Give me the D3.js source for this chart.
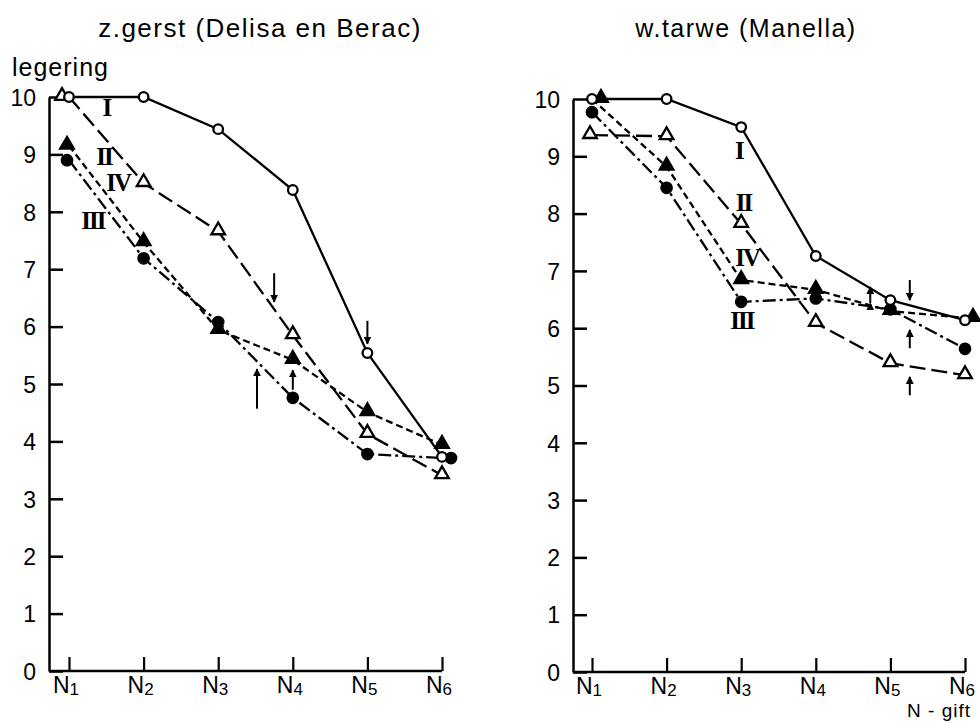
<!DOCTYPE html>
<html>
<head>
<meta charset="utf-8">
<script src="https://cdn.jsdelivr.net/npm/d3@7"></script>
<style>
  body { margin: 0; background: #fff; }
  svg text { font-family: "Liberation Sans", Arial, sans-serif; fill: #000; }
</style>
</head>
<body>
<div id="chart"></div>
<script>
// N-gift levels and legering scale
var nLabels = ["1", "2", "3", "4", "5", "6"];
var yTicks = [0, 1, 2, 3, 4, 5, 6, 7, 8, 9, 10];

// z.gerst (Delisa en Berac)
var gerstI   = [10, 10, 9.44, 8.38, 5.54, 3.73];
var gerstII  = [10, 8.5, 7.66, 5.85, 4.13, 3.41];
var gerstIII = [8.9, 7.19, 6.08, 4.76, 3.78, 3.71];
var gerstIV  = [9.15, 7.47, 5.94, 5.42, 4.51, 3.94];

// w.tarwe (Manella)
var tarweI   = [10, 10, 9.51, 7.26, 6.49, 6.14];
var tarweII  = [9.37, 9.35, 7.82, 6.09, 5.39, 5.18];
var tarweIII = [9.77, 8.45, 6.46, 6.52, 6.33, 5.64];
var tarweIV  = [10, 8.82, 6.84, 6.67, 6.3, 6.18];

// roman numeral labels: [label, x (N index), y]
var gerstLabels = [["I", 0.5, 9.83], ["II", 0.47, 8.96], ["IV", 0.66, 8.52], ["III", 0.32, 7.86]];
var tarweLabels = [["I", 1.97, 9.11], ["II", 2.03, 8.2], ["IV", 2.08, 7.24], ["III", 2.01, 6.14]];

// arrows: [x (N index), from y, to y]
var gerstArrows = [[2.75, 6.93, 6.43], [4.0, 6.1, 5.7], [2.52, 4.57, 5.26], [3.0, 4.9, 5.24]];
var tarweArrows = [[4.26, 6.84, 6.49], [4.26, 5.65, 5.97], [4.26, 4.83, 5.15]];

var svgWidth = 980, svgHeight = 723;

var svg = d3.select('#chart').append('svg')
  .attr('width', svgWidth)
  .attr('height', svgHeight);

var defs = svg.append('defs');
defs.append('marker')
  .attr('id', 'head')
  .attr('viewBox', '0 0 10 10')
  .attr('refX', 9).attr('refY', 5)
  .attr('markerWidth', 4).attr('markerHeight', 5)
  .attr('orient', 'auto')
  .append('path')
  .attr('d', 'M0,0 L10,5 L0,10 Z')
  .attr('fill', '#000');

// line / marker style per series
var styles = {
  I:   { dash: null,          sym: 'circle',   fill: '#fff' },
  II:  { dash: '16,6',        sym: 'triangle', fill: '#fff' },
  III: { dash: '13,4,3,4',    sym: 'circle',   fill: '#000' },
  IV:  { dash: '7,4',         sym: 'triangle', fill: '#000' }
};

var panels = [
  { title: 'z.gerst (Delisa en Berac)', titleX: 260, axisX: 49, x0: 69, x1: 442, y0: 671, y1: 97,
    titleSize: 26,
    series: { II: gerstII, III: gerstIII, IV: gerstIV, I: gerstI },
    nudge: { I: [0, 0, 0, 0, 0, 0], II: [-7, 0, 0, 0, 0, 0], III: [-2, 0, 0, 0, 0, 9], IV: [-2, 0, 0, 0, 0, 0] },
    labels: gerstLabels, arrows: gerstArrows, yLabel: true },
  { title: 'w.tarwe (Manella)', titleX: 746, axisX: 573, x0: 592, x1: 965, y0: 672, y1: 99,
    titleSize: 25,
    series: { II: tarweII, III: tarweIII, IV: tarweIV, I: tarweI },
    nudge: { I: [0, 0, 0, 0, 0, 0], II: [-2, 0, 0, 0, 0, 0], III: [0, 0, 0, 0, 0, 0], IV: [9, 0, 0, 0, 0, 8] },
    labels: tarweLabels, arrows: tarweArrows, xLabel: true }
];

panels.forEach(function(p) {
  var x = d3.scaleLinear().domain([0, 5]).range([p.x0, p.x1]);
  var y = d3.scaleLinear().domain([0, 10]).range([p.y0, p.y1]);
  var g = svg.append('g');

  // title
  svg.append('text')
    .attr('x', p.titleX).attr('y', 37)
    .attr('text-anchor', 'middle')
    .style('font-size', p.titleSize + 'px')
    .style('letter-spacing', '1.5px')
    .text(p.title);

  // y axis
  var leftAxis = d3.axisLeft(y).tickValues(yTicks)
    .tickSizeInner(-14).tickSizeOuter(0).tickPadding(13);
  var ya = g.append('g')
    .attr('transform', 'translate(' + p.axisX + ',0)')
    .call(leftAxis);
  ya.selectAll('line, path').attr('stroke', '#000').attr('stroke-width', 2.5);
  ya.selectAll('text').style('font-size', '23px').attr('dy', '0.36em');

  // x axis
  var bottomAxis = d3.axisBottom(x).tickValues(d3.range(6))
    .tickSizeInner(-14).tickSizeOuter(0).tickFormat('');
  var xa = g.append('g')
    .attr('transform', 'translate(0,' + p.y0 + ')')
    .call(bottomAxis);
  xa.select('.domain').remove();
  xa.selectAll('line').attr('stroke', '#000').attr('stroke-width', 2.2);
  g.append('line')
    .attr('x1', p.axisX).attr('x2', p.x1)
    .attr('y1', p.y0).attr('y2', p.y0)
    .attr('stroke', '#000').attr('stroke-width', 2.5);

  var lab = g.selectAll('.nlab').data(nLabels).enter()
    .append('text')
    .attr('class', 'nlab')
    .attr('x', function(d, i) { return x(i) - 3; })
    .attr('y', p.y0 + 22)
    .attr('text-anchor', 'middle')
    .style('font-size', '23px');
  lab.append('tspan').text('N');
  lab.append('tspan').attr('dy', 2).style('font-size', '17px').text(function(d) { return d; });

  // lines
  var line = d3.line()
    .x(function(d, i) { return x(i); })
    .y(function(d) { return y(d); });

  Object.keys(p.series).forEach(function(k) {
    g.append('path')
      .datum(p.series[k])
      .attr('d', line)
      .attr('fill', 'none')
      .attr('stroke', '#000')
      .attr('stroke-width', 2.3)
      .attr('stroke-dasharray', styles[k].dash);
  });

  // markers
  var tri = d3.symbol().type(d3.symbolTriangle).size(80);
  Object.keys(p.series).forEach(function(k) {
    var s = styles[k];
    var pts = g.selectAll('.m' + k).data(p.series[k]).enter();
    if (s.sym === 'circle') {
      pts.append('circle')
        .attr('cx', function(d, i) { return x(i) + p.nudge[k][i]; })
        .attr('cy', function(d) { return y(d); })
        .attr('r', s.fill === '#000' ? 5.2 : 4.8)
        .attr('fill', s.fill)
        .attr('stroke', '#000')
        .attr('stroke-width', 2.3);
    } else {
      pts.append('path')
        .attr('d', tri)
        .attr('transform', function(d, i) {
          return 'translate(' + (x(i) + p.nudge[k][i]) + ',' + (y(d) - 1) + ')';
        })
        .attr('fill', s.fill)
        .attr('stroke', '#000')
        .attr('stroke-width', 2.3)
        .attr('stroke-linejoin', 'miter');
    }
  });

  // roman numeral labels
  g.selectAll('.roman').data(p.labels).enter()
    .append('text')
    .attr('x', function(d) { return x(d[1]); })
    .attr('y', function(d) { return y(d[2]); })
    .attr('dy', '0.35em')
    .attr('text-anchor', 'middle')
    .style('font-family', '"Liberation Serif", serif')
    .style('font-weight', 'bold')
    .style('font-size', '25px')
    .style('letter-spacing', '-2px')
    .text(function(d) { return d[0]; });

  // arrows
  g.selectAll('.arrow').data(p.arrows).enter()
    .append('line')
    .attr('x1', function(d) { return x(d[0]); })
    .attr('x2', function(d) { return x(d[0]); })
    .attr('y1', function(d) { return y(d[1]); })
    .attr('y2', function(d) { return y(d[2]); })
    .attr('stroke', '#000')
    .attr('stroke-width', 2)
    .attr('marker-end', 'url(#head)');

  if (p.yLabel) {
    svg.append('text')
      .attr('x', 12).attr('y', 76)
      .style('font-size', '25px')
      .style('letter-spacing', '1px')
      .text('legering');
  }
  if (p.xLabel) {
    svg.append('text')
      .attr('x', 971).attr('y', 717)
      .attr('text-anchor', 'end')
      .style('font-size', '19px')
      .style('letter-spacing', '1px')
      .text('N - gift');
  }
});

// small double-headed arrow between tarwe N4 and N5
var xr = d3.scaleLinear().domain([0, 5]).range([592, 965]);
var yr = d3.scaleLinear().domain([0, 10]).range([672, 99]);
var dbl = [[3.73, 6.44, 6.72]];
svg.selectAll('.dbl').data(dbl).enter()
  .append('line')
  .attr('x1', function(d) { return xr(d[0]); })
  .attr('x2', function(d) { return xr(d[0]); })
  .attr('y1', function(d) { return yr(d[1]); })
  .attr('y2', function(d) { return yr(d[2]); })
  .attr('stroke', '#000')
  .attr('stroke-width', 2)
  .attr('marker-start', 'url(#head)')
  .attr('marker-end', 'url(#head)');
</script>
</body>
</html>
